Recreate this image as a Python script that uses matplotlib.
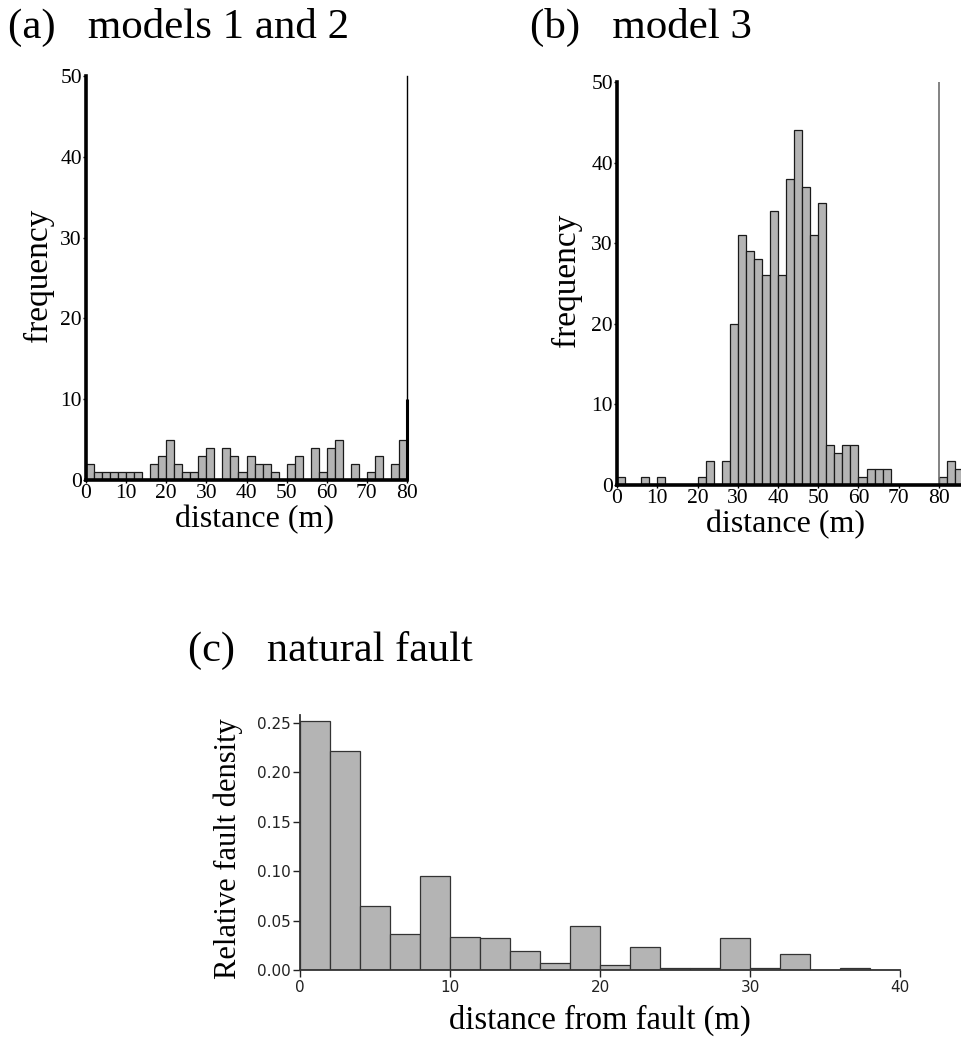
import numpy as np
import matplotlib
matplotlib.use("Agg")
import matplotlib.pyplot as plt

# ---- data ----
bin_width = 2
counts_a = [2, 1, 1, 1, 1, 1, 1, 0, 2, 3, 5, 2, 1, 1, 3, 4, 0, 4, 3, 1,
            3, 2, 2, 1, 0, 2, 3, 0, 4, 1, 4, 5, 0, 2, 0, 1, 3, 0, 2, 5]
counts_b = [1, 0, 0, 1, 0, 1, 0, 0, 0, 0, 1, 3, 0, 3, 20, 31, 29, 28, 26, 34,
            26, 38, 44, 37, 31, 35, 5, 4, 5, 5, 1, 2, 2, 2, 0, 0, 0, 0, 0, 0,
            1, 3, 2, 1, 0]
density_c = [0.252, 0.222, 0.065, 0.036, 0.095, 0.033, 0.032, 0.019, 0.007, 0.045,
             0.005, 0.023, 0.002, 0.002, 0.032, 0.002, 0.016, 0.0, 0.002, 0.0]
ticks_ab = [0, 10, 20, 30, 40, 50, 60, 70, 80]
yticks_ab = [0, 10, 20, 30, 40, 50]
ticks_c = [0, 10, 20, 30, 40]
yticks_c = [0.00, 0.05, 0.10, 0.15, 0.20, 0.25]

W, H = 961, 1039
fig = plt.figure(figsize=(W / 100, H / 100), dpi=100)
serif = "Liberation Serif"
bar_fc = "#b4b4b4"


def box(l, t, r, b):
  # pixel box -> figure fraction
  return [l / W, 1 - b / H, (r - l) / W, (b - t) / H]


def freq_panel(rect, counts, xmax):
  ax = fig.add_axes(rect)
  left = np.arange(len(counts)) * bin_width
  ax.bar(left, counts, width=bin_width, align="edge", color=bar_fc,
         edgecolor="#1a1a1a", linewidth=0.9)
  ax.set_xlim(0, xmax)
  ax.set_ylim(0, 50)
  for s in ["top", "right"]:
    ax.spines[s].set_visible(False)
  ax.spines["left"].set_linewidth(2.6)
  ax.spines["bottom"].set_linewidth(2.6)
  ax.set_xticks(ticks_ab)
  ax.set_yticks(yticks_ab)
  ax.tick_params(length=2, width=1, pad=1, labelsize=15.5)
  for lab in ax.get_xticklabels() + ax.get_yticklabels():
    lab.set_fontfamily(serif)
  ax.patch.set_visible(False)
  return ax


# (a)
ax_a = freq_panel(box(86, 76, 407, 480), counts_a, 80)
ax_a.axvline(80, color="black", lw=1.0, clip_on=False)
ax_a.vlines(80, 0, 10, color="black", lw=2.2, clip_on=False)
fig.text(8 / W, 1 - 27 / H, "(a)   models 1 and 2", family=serif, fontsize=31,
         va="center", ha="left")
fig.text(38 / W, 1 - 275 / H, "frequency", family=serif, fontsize=24,
         rotation=90, va="center", ha="center")
fig.text(255 / W, 1 - 520 / H, "distance (m)", family=serif, fontsize=23,
         va="center", ha="center")

# (b)
ax_b = freq_panel(box(617, 82, 617 + 322 * 90 / 80, 485), counts_b, 90)
ax_b.axvline(80, color="#6e6e6e", lw=1.2)
fig.text(530 / W, 1 - 27 / H, "(b)   model 3", family=serif, fontsize=31,
         va="center", ha="left")
fig.text(566 / W, 1 - 280 / H, "frequency", family=serif, fontsize=24,
         rotation=90, va="center", ha="center")
fig.text(785 / W, 1 - 525 / H, "distance (m)", family=serif, fontsize=23,
         va="center", ha="center")

# (c)
ax_c = fig.add_axes(box(300, 715, 900, 970))
left_c = np.arange(len(density_c)) * bin_width
ax_c.bar(left_c, density_c, width=bin_width, align="edge", color=bar_fc,
         edgecolor="#333333", linewidth=0.9)
ax_c.set_xlim(0, 40)
ax_c.set_ylim(0, 0.258)
for s in ["top", "right"]:
  ax_c.spines[s].set_visible(False)
for s in ["left", "bottom"]:
  ax_c.spines[s].set_linewidth(1.3)
  ax_c.spines[s].set_color("#333333")
ax_c.set_xticks(ticks_c)
ax_c.set_yticks(yticks_c)
ax_c.set_yticklabels([f"{v:.2f}" for v in yticks_c])
ax_c.tick_params(length=5, width=1, pad=2, labelsize=11, colors="#222222")
ax_c.patch.set_visible(False)
fig.text(188 / W, 1 - 650 / H, "(c)   natural fault", family=serif, fontsize=30.5,
         va="center", ha="left")
fig.text(228 / W, 1 - 849 / H, "Relative fault density", family=serif,
         fontsize=22, rotation=90, va="center", ha="center")
fig.text(600 / W, 1 - 1020 / H, "distance from fault (m)", family=serif,
         fontsize=23.5, va="center", ha="center")

fig.savefig("out.png", dpi=100)
